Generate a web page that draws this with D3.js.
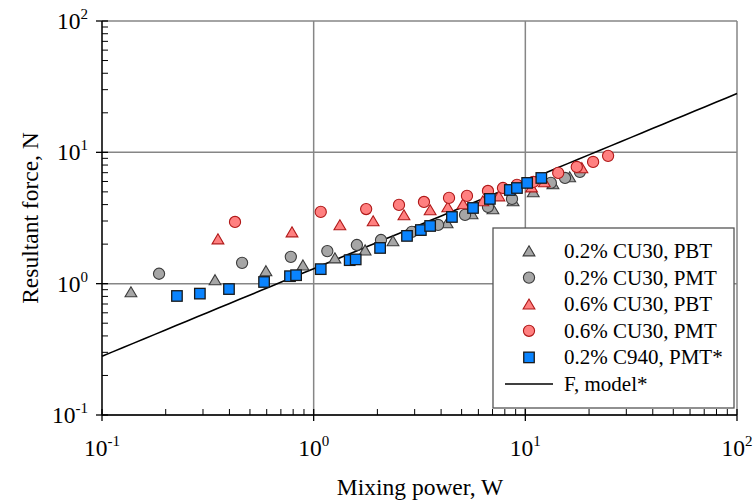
<!DOCTYPE html>
<html>
<head>
<meta charset="utf-8">
<script src="https://cdn.jsdelivr.net/npm/d3@7"></script>
<style>
  html, body { margin: 0; padding: 0; background: #fff; }
  svg { display: block; font-family: "Liberation Serif", "Times New Roman", serif; }
</style>
</head>
<body>
<svg id="chart" width="753" height="501"></svg>
<script>
// Mixing power (W) vs resultant force (N), per fluid and impeller
const pbt02P = [0.137, 0.342, 0.595, 0.89, 1.26, 1.75, 2.37, 3.15, 4.27, 5.6, 7.03, 8.75, 10.9, 13.5, 16.2];
const pbt02F = [0.85, 1.05, 1.23, 1.36, 1.54, 1.77, 2.08, 2.5, 2.85, 3.34, 3.64, 4.19, 4.91, 5.65, 6.38];

const pmt02P = [0.186, 0.459, 0.78, 1.16, 1.6, 2.08, 2.91, 3.87, 5.19, 6.66, 8.65, 13.2, 15.4, 18.1];
const pmt02F = [1.19, 1.44, 1.6, 1.77, 1.97, 2.15, 2.48, 2.8, 3.34, 3.84, 4.42, 5.85, 6.38, 7.1];

const pbt06P = [0.353, 0.79, 1.33, 1.91, 2.67, 3.55, 4.3, 5.08, 6.3, 7.5, 10.7, 12.3, 18.5];
const pbt06F = [2.15, 2.43, 2.75, 2.95, 3.28, 3.58, 3.77, 3.98, 4.19, 4.57, 5.35, 5.85, 7.48];

const pmt06P = [0.425, 1.08, 1.77, 2.53, 3.32, 4.36, 5.3, 6.66, 7.84, 9.13, 10.9, 14.3, 17.5, 20.9, 24.6];
const pmt06F = [2.95, 3.52, 3.7, 3.98, 4.19, 4.5, 4.66, 5.08, 5.35, 5.65, 5.95, 6.97, 7.74, 8.45, 9.4];

const c940P = [0.226, 0.29, 0.398, 0.583, 0.773, 0.826, 1.08, 1.48, 1.58, 2.06, 2.76, 3.21, 3.55, 4.5, 5.66, 6.8, 8.45, 9.13, 10.2, 11.9];
const c940F = [0.806, 0.84, 0.91, 1.03, 1.14, 1.16, 1.29, 1.51, 1.53, 1.87, 2.31, 2.56, 2.75, 3.22, 3.77, 4.42, 5.17, 5.35, 5.85, 6.38];

// Model: F = k * P^(2/3)
const modelK = 1.3;
const modelExp = 2 / 3;
const modelRange = [0.1, 100];

const seriesNames = ["0.2% CU30, PBT", "0.2% CU30, PMT", "0.6% CU30, PBT", "0.6% CU30, PMT", "0.2% C940, PMT*"];
const modelName = "F, model*";
const decadeExps = [-1, 0, 1, 2];
const xTitle = "Mixing power, W";
const yTitle = "Resultant force, N";

const series = [
  { name: seriesNames[0], P: pbt02P, F: pbt02F, shape: "tri", fill: "#a6a6a6", stroke: "#3a3a3a" },
  { name: seriesNames[1], P: pmt02P, F: pmt02F, shape: "circ", fill: "#a6a6a6", stroke: "#3a3a3a" },
  { name: seriesNames[2], P: pbt06P, F: pbt06F, shape: "tri", fill: "#ff8080", stroke: "#b01818" },
  { name: seriesNames[3], P: pmt06P, F: pmt06F, shape: "circ", fill: "#ff8080", stroke: "#b01818" },
  { name: seriesNames[4], P: c940P, F: c940F, shape: "sq", fill: "#0a84ff", stroke: "#1a1a1a" }
];

const svg = d3.select("#chart");
const m = { left: 102, right: 737, top: 21, bottom: 415 };

const x = d3.scaleLog().domain([0.1, 100]).range([m.left, m.right]);
const y = d3.scaleLog().domain([0.1, 100]).range([m.bottom, m.top]);

// Decade gridlines
const grid = svg.append("g");
decadeExps.forEach(e => {
  const v = Math.pow(10, e);
  grid.append("line").attr("x1", x(v)).attr("x2", x(v)).attr("y1", m.top).attr("y2", m.bottom)
    .attr("stroke", "#868686").attr("stroke-width", 1.5);
  grid.append("line").attr("x1", m.left).attr("x2", m.right).attr("y1", y(v)).attr("y2", y(v))
    .attr("stroke", "#868686").attr("stroke-width", 1.5);
});

// Axes with inward minor ticks and crossing major ticks
const minorVals = [];
for (let e = -1; e < 2; e++) for (let k = 2; k <= 9; k++) minorVals.push(k * Math.pow(10, e));
const majorVals = decadeExps.map(e => Math.pow(10, e));

const axes = svg.append("g").attr("stroke", "#000");
axes.append("line").attr("x1", m.left).attr("x2", m.right).attr("y1", m.bottom).attr("y2", m.bottom).attr("stroke-width", 1.3);
axes.append("line").attr("x1", m.left).attr("x2", m.left).attr("y1", m.top).attr("y2", m.bottom).attr("stroke-width", 1.3);
minorVals.forEach(v => {
  axes.append("line").attr("x1", x(v)).attr("x2", x(v)).attr("y1", m.bottom).attr("y2", m.bottom - 6).attr("stroke-width", 1);
  axes.append("line").attr("x1", m.left).attr("x2", m.left + 6).attr("y1", y(v)).attr("y2", y(v)).attr("stroke-width", 1);
});
majorVals.forEach(v => {
  axes.append("line").attr("x1", x(v)).attr("x2", x(v)).attr("y1", m.bottom - 6).attr("y2", m.bottom + 6).attr("stroke-width", 1.3);
  axes.append("line").attr("x1", m.left - 6).attr("x2", m.left + 6).attr("y1", y(v)).attr("y2", y(v)).attr("stroke-width", 1.3);
});

// Tick labels: 10 with exponent
function powLabel(sel, e, anchor) {
  const t = sel.append("text").attr("font-size", 23.5).attr("fill", "#000").attr("text-anchor", anchor);
  t.append("tspan").text("10");
  t.append("tspan").attr("font-size", 15).attr("dy", -10).text(String(e));
  return t;
}
decadeExps.forEach(e => {
  const v = Math.pow(10, e);
  powLabel(svg, e, "middle").attr("x", x(v)).attr("y", 456);
  powLabel(svg, e, "end").attr("x", m.left - 14).attr("y", y(v) + 8);
});

svg.append("text").attr("x", 420).attr("y", 495).attr("text-anchor", "middle")
  .attr("font-size", 23.5).text(xTitle);
svg.append("text").attr("transform", `translate(38,${(m.top + m.bottom) / 2}) rotate(-90)`)
  .attr("text-anchor", "middle").attr("font-size", 23.5).text(yTitle);

// Model line
const modelPts = d3.range(0, 61).map(i => Math.pow(10, Math.log10(modelRange[0]) + i * (Math.log10(modelRange[1]) - Math.log10(modelRange[0])) / 60));
svg.append("path")
  .datum(modelPts)
  .attr("fill", "none").attr("stroke", "#000").attr("stroke-width", 1.6)
  .attr("d", d3.line().x(p => x(p)).y(p => y(modelK * Math.pow(p, modelExp))));

// Markers
function drawMarker(g, shape, cx, cy, fill, stroke) {
  if (shape === "tri") {
    const s = 6.2;
    g.append("path").attr("d", `M${cx},${cy - s} L${cx + s * 0.95},${cy + s * 0.62} L${cx - s * 0.95},${cy + s * 0.62} Z`)
      .attr("fill", fill).attr("stroke", stroke).attr("stroke-width", 1.1);
  } else if (shape === "circ") {
    g.append("circle").attr("cx", cx).attr("cy", cy).attr("r", 5.6)
      .attr("fill", fill).attr("stroke", stroke).attr("stroke-width", 1.1);
  } else {
    const s = 10.5;
    g.append("rect").attr("x", cx - s / 2).attr("y", cy - s / 2).attr("width", s).attr("height", s)
      .attr("fill", fill).attr("stroke", stroke).attr("stroke-width", 1.3);
  }
}
const markG = svg.append("g");
series.forEach(s => {
  s.P.forEach((p, i) => drawMarker(markG, s.shape, x(p), y(s.F[i]), s.fill, s.stroke));
});

// Legend
const lg = svg.append("g");
lg.append("rect").attr("x", 493).attr("y", 228).attr("width", 241).attr("height", 180)
  .attr("fill", "#fff").attr("stroke", "#555").attr("stroke-width", 1.3);
series.forEach((s, i) => {
  const ly = 251 + i * 26.6;
  const g = lg.append("g");
  if (s.shape === "tri") drawMarker(g, "tri", 529, ly + 1, s.fill, s.stroke);
  else if (s.shape === "circ") drawMarker(g, "circ", 529, ly, s.fill, s.stroke);
  else drawMarker(g, "sq", 529, ly, s.fill, s.stroke);
  lg.append("text").attr("x", 564).attr("y", ly + 7).attr("font-size", 21).text(s.name);
});
const mly = 251 + 5 * 26.6;
lg.append("line").attr("x1", 505).attr("x2", 553).attr("y1", mly).attr("y2", mly).attr("stroke", "#000").attr("stroke-width", 1.6);
lg.append("text").attr("x", 564).attr("y", mly + 7).attr("font-size", 21).text(modelName);
</script>
</body>
</html>
